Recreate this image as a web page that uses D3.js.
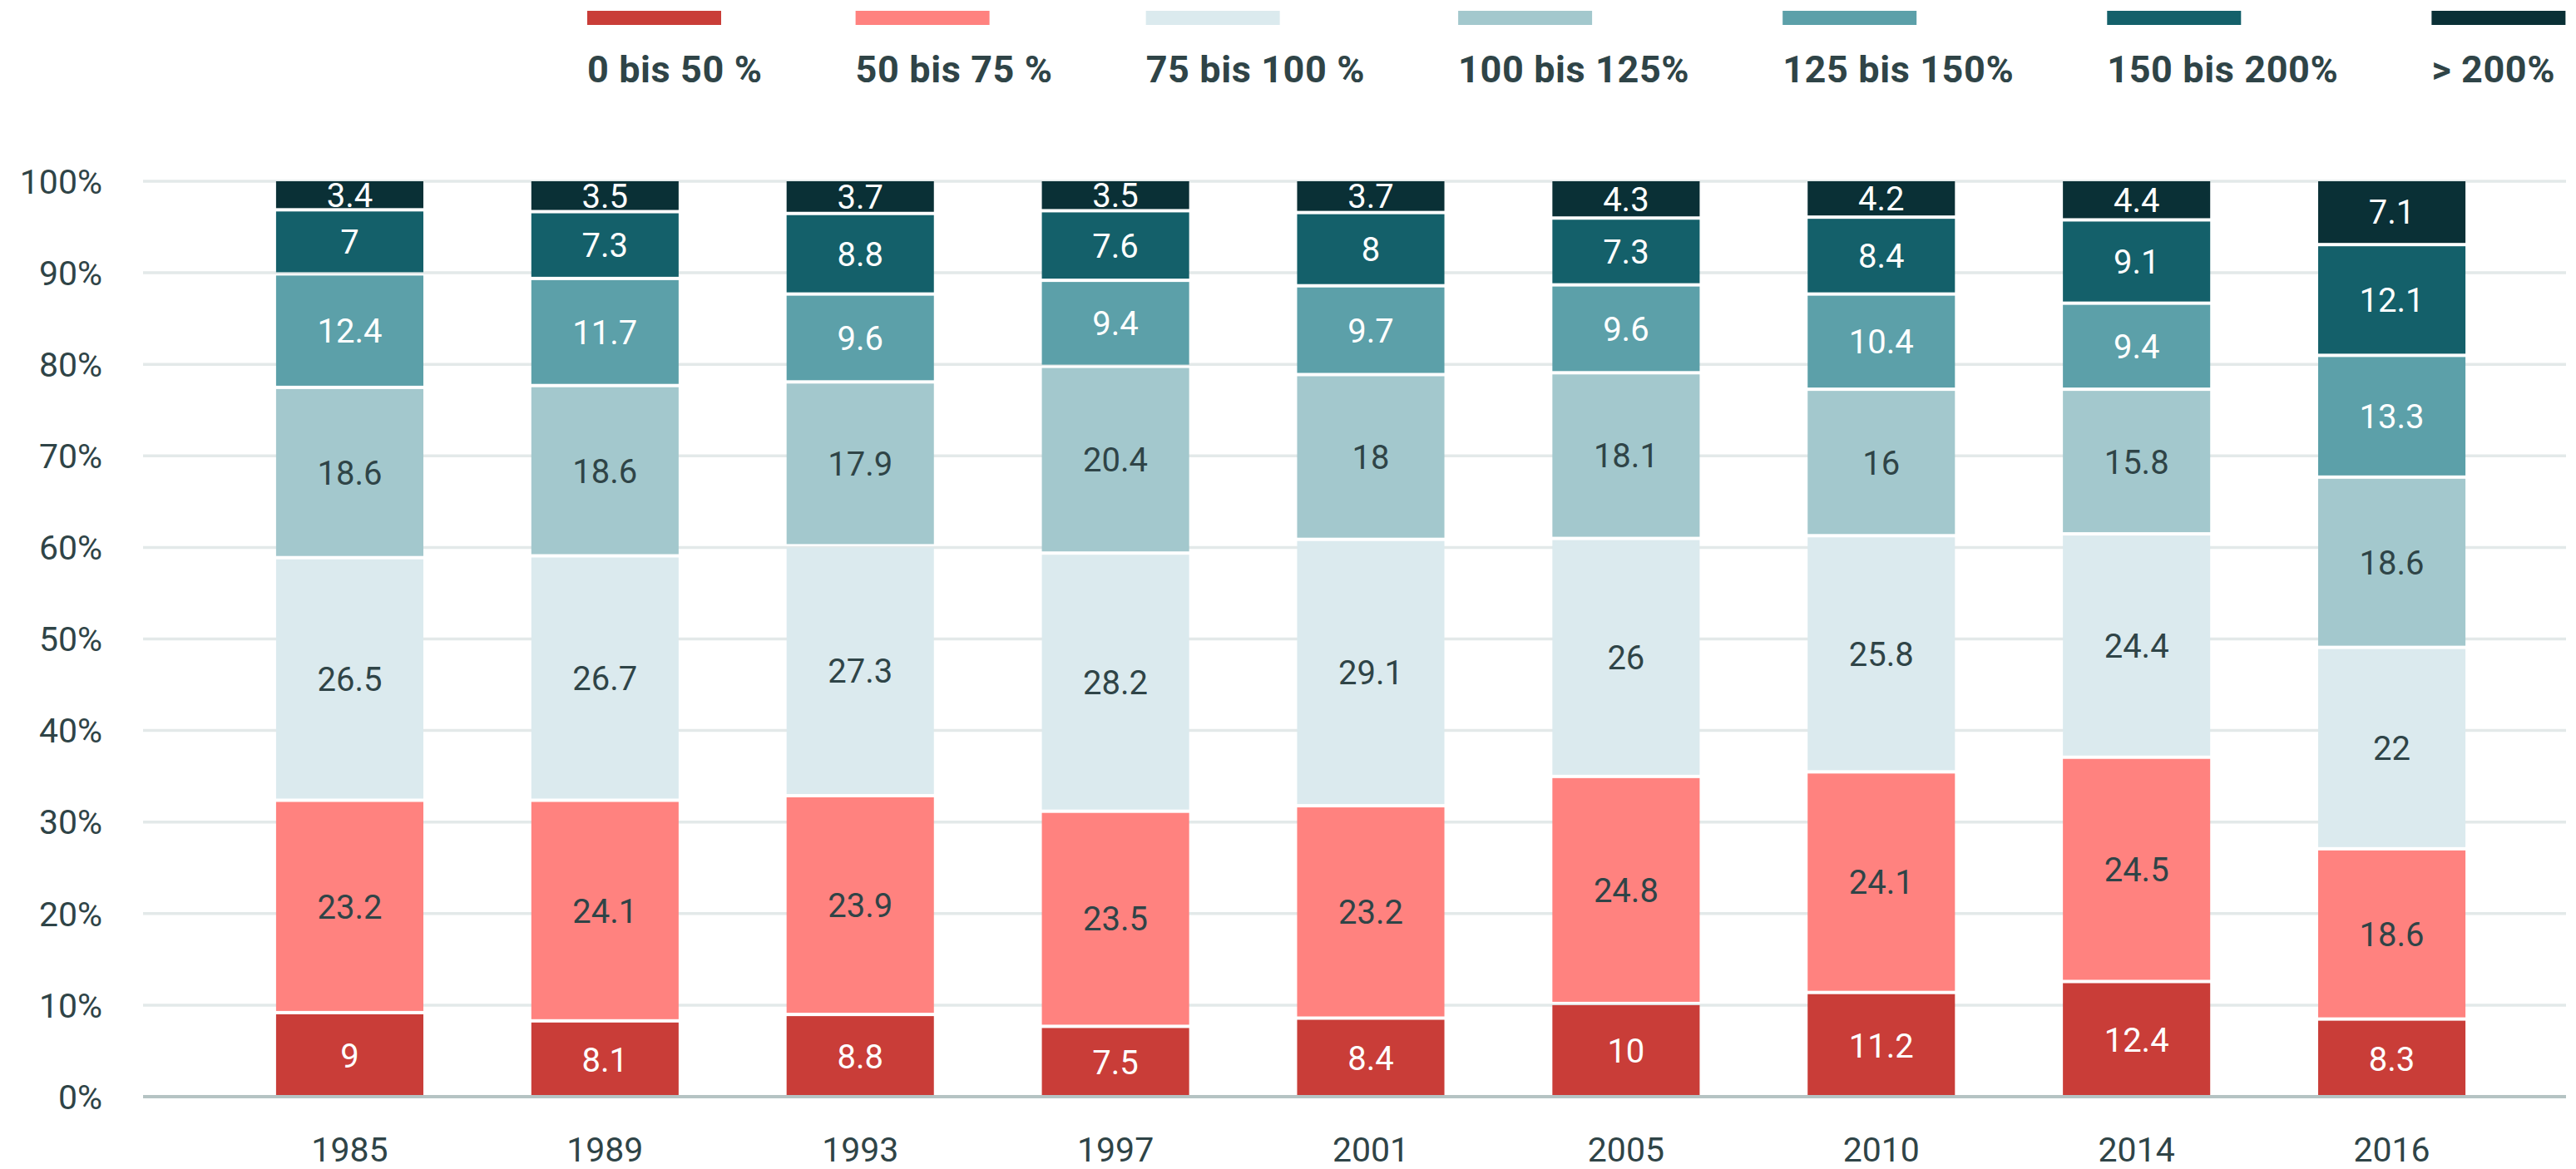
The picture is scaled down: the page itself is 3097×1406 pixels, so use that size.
<!DOCTYPE html>
<html>
<head>
<meta charset="utf-8">
<script src="https://cdn.jsdelivr.net/npm/d3@7"></script>
<style>
  body { margin: 0; background: #fff; }
  svg text { font-family: Roboto, "Open Sans", sans-serif; }
</style>
</head>
<body>
<div class="chart"></div>
<script>
var years = ["1985", "1989", "1993", "1997", "2001", "2005", "2010", "2014", "2016"];
var groups = ["0 bis 50 %", "50 bis 75 %", "75 bis 100 %", "100 bis 125%", "125 bis 150%", "150 bis 200%", "> 200%"];

// share of each group per year, one array per group
var g0to50 = [9, 8.1, 8.8, 7.5, 8.4, 10, 11.2, 12.4, 8.3];
var g50to75 = [23.2, 24.1, 23.9, 23.5, 23.2, 24.8, 24.1, 24.5, 18.6];
var g75to100 = [26.5, 26.7, 27.3, 28.2, 29.1, 26, 25.8, 24.4, 22];
var g100to125 = [18.6, 18.6, 17.9, 20.4, 18, 18.1, 16, 15.8, 18.6];
var g125to150 = [12.4, 11.7, 9.6, 9.4, 9.7, 9.6, 10.4, 9.4, 13.3];
var g150to200 = [7, 7.3, 8.8, 7.6, 8, 7.3, 8.4, 9.1, 12.1];
var gOver200 = [3.4, 3.5, 3.7, 3.5, 3.7, 4.3, 4.2, 4.4, 7.1];

var yTicks = [0, 10, 20, 30, 40, 50, 60, 70, 80, 90, 100];

var colors = ["#c93d38", "#ff827f", "#dbeaee", "#a3c8cd", "#5ca0a9", "#14606a", "#0a3036"];
var labelColors = ["#ffffff", "#2f4447", "#2f4447", "#2f4447", "#ffffff", "#ffffff", "#ffffff"];
var textColor = "#2f4447";

var series = [g0to50, g50to75, g75to100, g100to125, g125to150, g150to200, gOver200];

var svgWidth = 3097;
var svgHeight = 1406;

var svg = d3.select(".chart")
  .append("svg")
  .attr("width", svgWidth)
  .attr("height", svgHeight);

// build rows for d3.stack
var rows = years.map(function(yr, i) {
  var row = { year: yr };
  groups.forEach(function(g, k) { row[g] = series[k][i]; });
  return row;
});

var stacked = d3.stack().keys(groups)(rows);

var xScale = d3.scaleBand()
  .domain(years)
  .range([267, 3029])
  .paddingInner(0.423)
  .paddingOuter(0.2115);

var yScale = d3.scaleLinear()
  .domain([0, 100])
  .range([1319, 218])
  .clamp(true);

// gridlines
svg.append("g")
  .selectAll("line")
  .data(yTicks.filter(function(t) { return t > 0; }))
  .enter()
  .append("line")
  .attr("x1", 172)
  .attr("x2", 3085)
  .attr("y1", function(d) { return yScale(d); })
  .attr("y2", function(d) { return yScale(d); })
  .attr("stroke", "#e3e9e9")
  .attr("stroke-width", 3.5);

// y tick labels
svg.append("g")
  .selectAll("text")
  .data(yTicks)
  .enter()
  .append("text")
  .attr("x", 123)
  .attr("y", function(d) { return yScale(d); })
  .attr("dy", "0.36em")
  .attr("text-anchor", "end")
  .attr("font-size", 41)
  .attr("fill", textColor)
  .text(function(d) { return d + "%"; });

var gap = 4;

var layer = svg.append("g")
  .selectAll("g")
  .data(stacked)
  .enter()
  .append("g")
  .attr("fill", function(d, k) { return colors[k]; });

function segTop(d) { return yScale(d[1]); }
function segBottom(d, k) { return k === 0 ? yScale(d[0]) : yScale(d[0]) - gap; }

layer.each(function(s, k) {
  var g = d3.select(this);
  g.selectAll("rect")
    .data(s)
    .enter()
    .append("rect")
    .attr("x", function(d) { return xScale(d.data.year); })
    .attr("width", xScale.bandwidth())
    .attr("y", function(d) { return segTop(d); })
    .attr("height", function(d) { return Math.max(0, segBottom(d, k) - segTop(d)); });

  g.selectAll("text")
    .data(s)
    .enter()
    .append("text")
    .attr("x", function(d) { return xScale(d.data.year) + xScale.bandwidth() / 2; })
    .attr("y", function(d) { return (segTop(d) + segBottom(d, k)) / 2; })
    .attr("dy", "0.36em")
    .attr("text-anchor", "middle")
    .attr("font-size", 40)
    .attr("fill", labelColors[k])
    .text(function(d) { return series[k][years.indexOf(d.data.year)]; });
});

// baseline
svg.append("line")
  .attr("x1", 172)
  .attr("x2", 3085)
  .attr("y1", yScale(0))
  .attr("y2", yScale(0))
  .attr("stroke", "#b5c3c3")
  .attr("stroke-width", 4);

// year labels
svg.append("g")
  .selectAll("text")
  .data(years)
  .enter()
  .append("text")
  .attr("x", function(d) { return xScale(d) + xScale.bandwidth() / 2; })
  .attr("y", 1397)
  .attr("text-anchor", "middle")
  .attr("font-size", 41)
  .attr("fill", textColor)
  .text(function(d) { return d; });

// legend
var legend = svg.append("g");
var lx = 706;
groups.forEach(function(g, k) {
  var item = legend.append("g").attr("transform", "translate(" + lx + ",0)");
  item.append("rect")
    .attr("x", 0)
    .attr("y", 13)
    .attr("width", 161)
    .attr("height", 17)
    .attr("fill", colors[k]);
  var t = item.append("text")
    .attr("x", 0)
    .attr("y", 99)
    .attr("font-size", 45)
    .attr("font-weight", 700)
    .attr("letter-spacing", 0.6)
    .attr("fill", textColor)
    .text(g);
  var w = t.node().getComputedTextLength();
  lx += Math.max(w, 161) + 112;
});
</script>
</body>
</html>
